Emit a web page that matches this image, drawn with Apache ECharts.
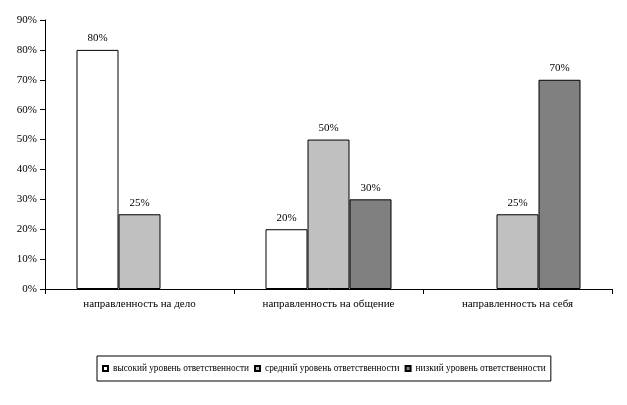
<!DOCTYPE html>
<html>
<head>
<meta charset="utf-8">
<script src="https://cdn.jsdelivr.net/npm/echarts@6/dist/echarts.min.js"></script>
<style>html,body{margin:0;padding:0;background:#fff;}#main{width:627px;height:405px;}</style>
</head>
<body>
<div id="main"></div>
<script>
	var cats = ['направленность на дело','направленность на общение','направленность на себя'];
	// null = нет столбца
	var data = {
		high: [80, 20, null],
		mid: [25, 50, 25],
		low: [null, 30, 70],
	};
	var font = 'Liberation Serif';
	var chart = echarts.init(document.getElementById('main'));
	function bar(name, d, color){
		return {
			name: name, type: 'bar', data: d, barWidth: 42, barGap: '0%',
			itemStyle: { color: color, borderColor: '#000', borderWidth: 1 },
			label: { show: true, position: 'top', formatter: '{c}%', color: '#000', fontFamily: font, fontSize: 11, distance: 6 },
		};
	}
	chart.setOption({
		animation: false,
		grid: { left: 45, right: 15, top: 20, bottom: 116 },
		legend: {
			bottom: 24, left: 97, itemWidth: 5, itemHeight: 5, itemGap: 5, icon: 'rect',
			borderColor: '#000', borderWidth: 1, padding: [8, 5],
			textStyle: { fontFamily: font, fontSize: 9.3, color: '#000' },
			data: ['высокий уровень ответственности','средний уровень ответственности','низкий уровень ответственности'],
		},
		xAxis: {
			type: 'category', data: cats,
			axisLine: { lineStyle: { color: '#000' } },
			axisTick: { show: true, lineStyle: { color: '#000' } },
			axisLabel: { color: '#000', fontFamily: font, fontSize: 11, margin: 10 },
		},
		yAxis: {
			type: 'value', min: 0, max: 90, interval: 10,
			axisLine: { show: true, lineStyle: { color: '#000' } },
			axisTick: { show: true, lineStyle: { color: '#000' } },
			splitLine: { show: false },
			axisLabel: { formatter: '{value}%', color: '#000', fontFamily: font, fontSize: 11 },
		},
		series: [
			bar('высокий уровень ответственности', data.high, '#ffffff'),
			bar('средний уровень ответственности', data.mid, '#c0c0c0'),
			bar('низкий уровень ответственности', data.low, '#808080'),
		],
	});
</script>
</body>
</html>
